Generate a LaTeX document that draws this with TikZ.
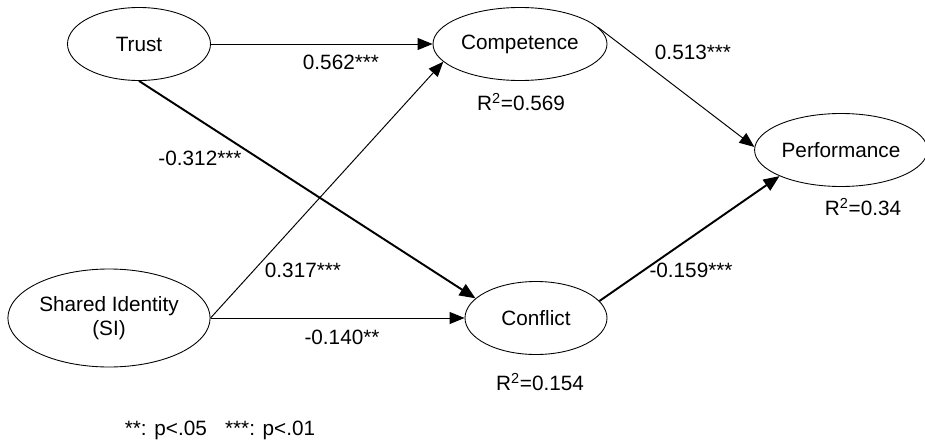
\documentclass[tikz,border=0pt]{standalone}
\usepackage{fontspec}
\setmainfont{Liberation Sans}
\usetikzlibrary{shapes.geometric,arrows.meta}

\tikzset{
	latent/.style={ellipse,draw,line width=0.5pt,inner sep=1pt,minimum height=1.46cm,align=center},
	path/.style={-{Triangle[length=3mm,width=2.4mm]},line width=0.55pt},
	strong/.style={-{Triangle[length=3.2mm,width=2.6mm]},line width=1.1pt},
	coef/.style={inner sep=0pt}
}

\begin{document}
\begin{tikzpicture}[font=\fontsize{11.8}{14}\selectfont]
		\useasboundingbox (0,0) rectangle (18.5,8.88);
		
		%constructs
		\node[latent,minimum width=2.86cm] (trust) at (2.78,8.0) {Trust};
		\node[latent,minimum width=3.48cm] (comp) at (10.4,8.0) {Competence};
		\node[latent,minimum width=3.3cm] (perf) at (16.82,5.88) {Performance};
		\node[latent,minimum width=3.92cm,minimum height=1.96cm] (si) at (2.18,2.52) {Shared Identity\\(SI)};
		\node[latent,minimum width=2.84cm] (confl) at (10.72,2.52) {Conflict};
		
		%paths
		\draw[path] (trust) -- (comp);
		\draw[strong] (trust.south) -- (confl.162);
		\draw[path] (si.east) -- (comp.193);
		\draw[path] (si) -- (confl);
		\draw[path] (comp.12) -- (perf.178);
		\draw[strong] (confl.15) -- (perf.203);
		
		%coefficients
		\node[coef] (c1) at (6.82,7.64) {0.562***};
		\node[coef] (c2) at (4.0,5.72) {-0.312***};
		\node[coef] (c3) at (6.06,3.48) {0.317***};
		\node[coef] (c4) at (6.84,2.14) {-0.140**};
		\node[coef] (c5) at (13.86,7.84) {0.513***};
		\node[coef] (c6) at (13.82,3.48) {-0.159***};
		
		%explained variance
		\node[coef] (r1) at (10.42,6.84) {R\textsuperscript{2}=0.569};
		\node[coef] (r2) at (17.26,4.74) {R\textsuperscript{2}=0.34};
		\node[coef] (r3) at (10.8,1.24) {R\textsuperscript{2}=0.154};
		
		%legend
		\node[coef] (key) at (4.4,0.28) {**: p<.05\hspace{0.6em} ***: p<.01};
\end{tikzpicture}
\end{document}
